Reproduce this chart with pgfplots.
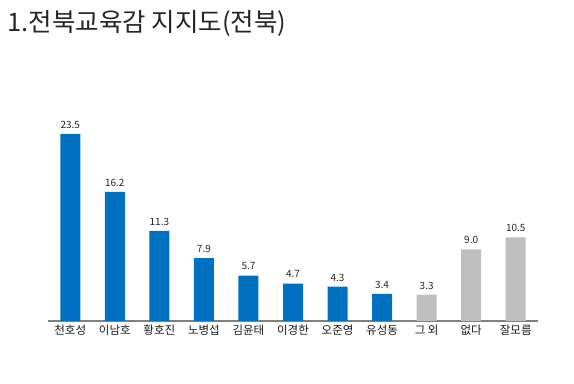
\documentclass[border=0pt]{standalone}
\usepackage{pgfplots}
\pgfplotsset{compat=1.18}
\usepackage{fontspec}
\setmainfont{Noto Sans CJK KR}
\definecolor{barblue}{HTML}{0070C0}
\definecolor{bargray}{HTML}{BFBFBF}
\definecolor{axgray}{HTML}{808080}
\begin{document}
\begin{tikzpicture}
\path[use as bounding box] (0,0) rectangle (574bp,384bp);
\node[anchor=west, font=\fontsize{25.5bp}{29bp}\selectfont, text=black!85] at (4bp,361bp) {1.전북교육감 지지도(전북)};
\begin{axis}[
  at={(48bp,63bp)}, anchor=south west,
  scale only axis, width=490bp, height=239bp,
  xmin=-0.5, xmax=10.5, ymin=0, ymax=30,
  axis x line*=bottom, axis y line=none,
  x axis line style={draw=axgray, line width=1.5bp, -},
  xtick={0,...,10},
  xticklabels={천호성,이남호,황호진,노병섭,김윤태,이경한,오준영,유성동,그 외,없다,잘모름},
  major tick length=0pt,
  xticklabel style={font=\fontsize{11.5bp}{13bp}\selectfont, text=black!90, yshift=-0.5bp},
  ybar, bar width=20bp,
  nodes near coords,
  nodes near coords style={font=\fontsize{10bp}{12bp}\selectfont, text=black!85, yshift=2bp, /pgf/number format/.cd, fixed, fixed zerofill, precision=1, assume math mode=true},
  /pgf/number format/assume math mode=true,
  clip=false,
]
\addplot[fill=barblue, draw=none, bar shift=0pt] coordinates {(0,23.5) (1,16.2) (2,11.3) (3,7.9) (4,5.7) (5,4.7) (6,4.3) (7,3.4)};
\addplot[fill=bargray, draw=none, bar shift=0pt] coordinates {(8,3.3) (9,9.0) (10,10.5)};
\end{axis}
\end{tikzpicture}
\end{document}
